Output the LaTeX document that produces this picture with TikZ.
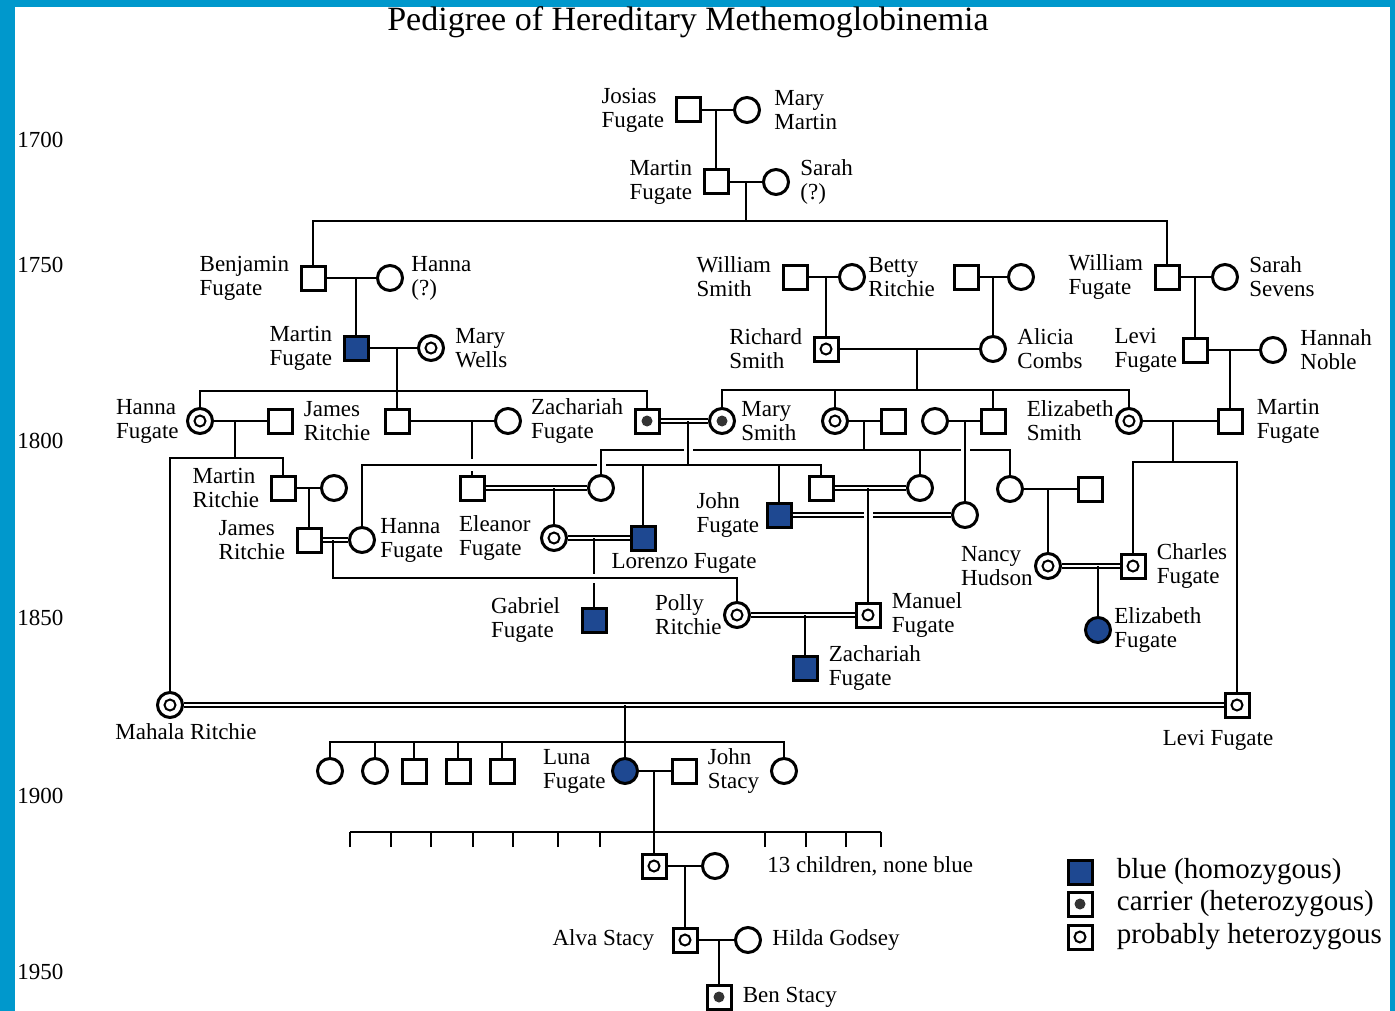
\documentclass[tikz,border=0pt]{standalone}
\usepackage{fontspec}
\setmainfont{Liberation Serif}
\usetikzlibrary{positioning}
\definecolor{frameblue}{RGB}{0,152,204}
\definecolor{bluef}{RGB}{30,72,145}
\newcommand\namefont{\fontsize{23}{24}\selectfont}
\newcommand\ttlfont{\fontsize{34}{38}\selectfont}
\newcommand\legfont{\fontsize{29}{32}\selectfont}

\begin{document}
\begin{tikzpicture}[x=1pt,y=-1pt,line width=2.8pt,
  sq/.style={draw,fill=white,minimum size=24pt,inner sep=0pt,line width=3pt},
  ci/.style={sq,circle,minimum size=25pt},
  aff/.style={fill=bluef},
  prob/.style={path picture={\draw[line width=2pt] (path picture bounding box.center) circle (5.5pt);}},
  carr/.style={path picture={\fill[black!80] (path picture bounding box.center) circle (5.5pt);}},
  dbl/.style={double,double distance=2.4pt,line width=2pt},
  over/.style={preaction={draw=white,line width=9pt,shorten <=6pt,shorten >=6pt}},
  txt/.style={font=\namefont,inner sep=0pt},
  leg/.style={font=\legfont,inner sep=0pt},
  label distance=9pt,
  every label/.style={font=\namefont,align=left,inner sep=0pt}]
\useasboundingbox (0,0) rectangle (1395,1011);
\fill[frameblue] (0,0) rectangle (1395,1011);
\fill[white] (15,7) rectangle (1390,1011);

\node[font=\ttlfont,inner sep=0pt] (title) at (688,22) {Pedigree of Hereditary Methemoglobinemia};
\foreach \y/\t in {140/1700,265/1750,441/1800,618/1850,796/1900,972/1950}
  \node[txt,anchor=west] (y\t) at (16,\y) {\t};

% people
\node[sq,label={left:{Josias\\Fugate}}] (jos) at (688,110) {};
\node[ci,label={[label distance=12pt]right:{Mary\\Martin}}] (mmar) at (747,110) {};
\node[sq,label={left:{Martin\\Fugate}}] (mf1) at (716,182) {};
\node[ci,label={right:{Sarah\\(?)}}] (sar) at (776,182) {};

\node[sq,label={left:{Benjamin\\Fugate}}] (ben1) at (313,278) {};
\node[ci,label={[label distance=6pt]right:{Hanna\\(?)}}] (han) at (390,278) {};
\node[sq,label={left:{William\\Smith}}] (wsm) at (795,277) {};
\node[ci,label={[label distance=1pt]right:{Betty\\Ritchie}}] (bet) at (852,277) {};
\node[sq] (xsq) at (966,277) {};
\node[ci] (xci) at (1021,277) {};
\node[sq,label={left:{William\\Fugate}}] (wfu) at (1167,277) {};
\node[ci,label={right:{Sarah\\Sevens}}] (sse) at (1225,277) {};

\node[sq,aff,label={left:{Martin\\Fugate}}] (mf2) at (356,348) {};
\node[ci,prob,label={right:{Mary\\Wells}}] (mwe) at (431,348) {};
\node[sq,prob,label={left:{Richard\\Smith}}] (rsm) at (826,349) {};
\node[ci,label={right:{Alicia\\Combs}}] (aco) at (993,349) {};
\node[sq,label={[label distance=3pt]left:{Levi\\Fugate}}] (lev1) at (1195,350) {};
\node[ci,label={[label distance=12pt]right:{Hannah\\Noble}}] (hno) at (1273,350) {};

\node[ci,prob,label={[label distance=6pt]left:{Hanna\\Fugate}}] (hf1) at (200,421) {};
\node[sq,label={right:{James\\Ritchie}}] (jr1) at (280,421) {};
\node[sq] (fs1) at (397,421) {};
\node[ci] (fc1) at (508,421) {};
\node[sq,carr,label={left:{Zachariah\\Fugate}}] (zf1) at (647,421) {};
\node[ci,carr,label={[label distance=4pt]right:{Mary\\Smith}}] (msm) at (722,421) {};
\node[ci,prob] (sc1) at (835,421) {};
\node[sq] (ss1) at (893,421) {};
\node[ci] (sc2) at (935,421) {};
\node[sq] (ss2) at (993,421) {};
\node[ci,prob,label={[label distance=0pt]left:{Elizabeth\\Smith}}] (esm) at (1129,421) {};
\node[sq,label={[label distance=12pt]right:{Martin\\Fugate}}] (mf3) at (1230,421) {};

\node[sq,label={left:{Martin\\Ritchie}}] (mr1) at (283,488) {};
\node[ci] (rc1) at (334,488) {};
\node[sq] (fs2) at (472,488) {};
\node[ci] (fc2) at (601,488) {};
\node[sq] (fs3) at (821,488) {};
\node[ci] (fc3) at (920,488) {};
\node[ci] (fc4) at (1010,489) {};
\node[sq] (fs4) at (1090,489) {};
\node[sq,aff,label={[label distance=5pt]left:{John\\Fugate}}] (jfu) at (779,515) {};
\node[ci] (fc5) at (965,515) {};

\node[sq,label={left:{James\\Ritchie}}] (jr2) at (309,540) {};
\node[ci,label={[label distance=3pt]right:{Hanna\\Fugate}}] (hf2) at (362,540) {};
\node[ci,prob,label={[label distance=8pt]left:{Eleanor\\Fugate}}] (elf) at (554,538) {};
\node[sq,aff,label={[label distance=1pt,xshift=41pt]below:Lorenzo Fugate}] (lof) at (643,538) {};
\node[ci,prob,label={[label distance=0pt]left:{Nancy\\Hudson}}] (nhu) at (1048,566) {};
\node[sq,prob,label={right:{Charles\\Fugate}}] (chf) at (1133,566) {};

\node[sq,aff,label={[label distance=19pt]left:{Gabriel\\Fugate}}] (gaf) at (594,620) {};
\node[ci,prob,label={[label distance=0pt]left:{Polly\\Ritchie}}] (pri) at (737,615) {};
\node[sq,prob,label={right:{Manuel\\Fugate}}] (maf) at (868,615) {};
\node[ci,aff,label={[label distance=1pt]right:{Elizabeth\\Fugate}}] (elz) at (1098,630) {};
\node[sq,aff,label={right:{Zachariah\\Fugate}}] (zf2) at (805,668) {};

\node[ci,prob,label={[label distance=3pt,xshift=16pt]below:Mahala Ritchie}] (mah) at (170,705) {};
\node[sq,prob,label={[label distance=10pt,xshift=-19pt]below:Levi Fugate}] (lev2) at (1237,705) {};

\foreach \x/\s [count=\i] in {330/ci,375/ci,414/sq,458/sq,502/sq}
  \node[\s] (k\i) at (\x,771) {};
\node[ci,aff,label={[label distance=4pt]left:{Luna\\Fugate}}] (luf) at (625,771) {};
\node[sq,label={right:{John\\Stacy}}] (jst) at (684,771) {};
\node[ci] (k7) at (784,771) {};

\node[sq,prob] (sfa) at (654,866) {};
\node[ci] (smo) at (715,866) {};
\node[txt,anchor=west] (kids) at (766,866) {13 children, none blue};
\node[sq,prob,label={[label distance=16pt]left:Alva Stacy}] (alv) at (685,940) {};
\node[ci,label={right:Hilda Godsey}] (hgo) at (748,940) {};
\node[sq,carr,label={right:Ben Stacy}] (bst) at (719,997) {};

% legend
\node[sq,aff] (lg1) at (1080,872) {};
\node[sq,carr] (lg2) at (1080,904) {};
\node[sq,prob] (lg3) at (1080,937) {};
\node[leg,right=22pt of lg1] (lt1) {blue (homozygous)};
\node[leg,right=22pt of lg2] (lt2) {carrier (heterozygous)};
\node[leg,right=22pt of lg3] (lt3) {probably heterozygous};

% descent points
\coordinate (c1) at (716,110);
\coordinate (c2) at (746,182); \coordinate (s2) at (746,221);
\coordinate (c3) at (356,278);
\coordinate (c4) at (826,277);
\coordinate (c5) at (993,277);
\coordinate (c6) at (1195,277);
\coordinate (c7) at (397,348); \coordinate (s7) at (397,391);
\coordinate (c8) at (917,349); \coordinate (s8) at (917,390);
\coordinate (c9) at (1230,350);
\coordinate (c10) at (235,421); \coordinate (s10) at (235,458);
\coordinate (c11) at (472,421); \coordinate (g1) at (472,459); \coordinate (g2) at (472,471);
\coordinate (c12) at (688,421); \coordinate (s12) at (688,465);
\coordinate (c13) at (864,421); \coordinate (s13) at (864,450);
\coordinate (c14) at (965,421);
\coordinate (c15) at (1173,421); \coordinate (s15) at (1173,462);
\coordinate (c16) at (309,488);
\coordinate (c17) at (333,540); \coordinate (s17) at (333,578);
\coordinate (c18) at (554,488);
\coordinate (c19) at (594,538);
\coordinate (c20) at (868,488);
\coordinate (c21) at (805,615);
\coordinate (c22) at (1048,489);
\coordinate (c23) at (1098,566);
\coordinate (c24) at (625,705); \coordinate (s24) at (625,742);
\coordinate (c25) at (654,771); \coordinate (s25) at (654,832);
\coordinate (c26) at (685,866);
\coordinate (c27) at (719,940);

% lines
\draw (jos) -- (mmar); \draw (c1) -- (mf1);
\draw (mf1) -- (sar); \draw (c2) -- (s2);
\draw (ben1) |- (s2) -| (wfu);
\draw (ben1) -- (han); \draw (c3) -- (mf2);
\draw (wsm) -- (bet); \draw (c4) -- (rsm);
\draw (xsq) -- (xci); \draw (c5) -- (aco);
\draw (wfu) -- (sse); \draw (c6) -- (lev1);
\draw (mf2) -- (mwe); \draw (c7) -- (fs1);
\draw (hf1) |- (s7) -| (zf1);
\draw (rsm) -- (aco); \draw (c8) -- (s8);
\draw (msm) |- (s8) -| (esm);
\draw (sc1) -- (sc1 |- s8);
\draw (ss2) -- (ss2 |- s8);
\draw (lev1) -- (hno); \draw (c9) -- (mf3);
\draw (hf1) -- (jr1); \draw (c10) -- (s10);
\draw (mah) |- (s10) -| (mr1);
\draw (fs1) -- (fc1); \draw (c11) -- (g1); \draw (g2) -- (fs2);
\draw[dbl] (zf1) -- (msm);
\draw (sc1) -- (ss1);
\draw (sc2) -- (ss2);
\draw (esm) -- (mf3); \draw (c15) -- (s15);
\draw (chf) |- (s15) -| (lev2);
\draw (mr1) -- (rc1); \draw (c16) -- (jr2);
\draw[dbl] (jr2) -- (hf2);
\draw[dbl] (fs2) -- (fc2); \draw (c18) -- (elf);
\draw[dbl] (elf) -- (lof); \draw (c19) -- (gaf);
\draw[over] (c17) -- (s17) -| (pri);
\draw (hf2) |- (s12) -| (fs3);
\draw (lof) -- (lof |- s12);
\draw (jfu) -- (jfu |- s12);
\draw[over] (fc2) |- (s13) -| (fc4);
\draw (fc3) -- (fc3 |- s13);
\draw (c13) -- (s13);
\draw[over] (c12) -- (s12);
\draw[over] (c14) -- (fc5);
\draw[dbl] (fs3) -- (fc3);
\draw[dbl] (jfu) -- (fc5);
\draw[over] (c20) -- (maf);
\draw[dbl] (pri) -- (maf); \draw (c21) -- (zf2);
\draw (fc4) -- (fs4); \draw (c22) -- (nhu);
\draw[dbl] (nhu) -- (chf); \draw (c23) -- (elz);
\draw[dbl] (mah) -- (lev2); \draw (c24) -- (luf);
\draw (k1) |- (s24) -| (k7);
\foreach \i in {2,...,5} \draw (k\i) -- (k\i |- s24);
\draw (luf) -- (jst); \draw (c25) -- (sfa);
\foreach \x [count=\i] in {350,391,431,473,513,558,600,765,806,846,881} {
  \coordinate (t\i) at (\x,847);
  \draw (t\i) -- (t\i |- s25);
}
\draw (t1 |- s25) -- (t11 |- s25);
\draw (sfa) -- (smo); \draw (c26) -- (alv);
\draw (alv) -- (hgo); \draw (c27) -- (bst);
\end{tikzpicture}
\end{document}
